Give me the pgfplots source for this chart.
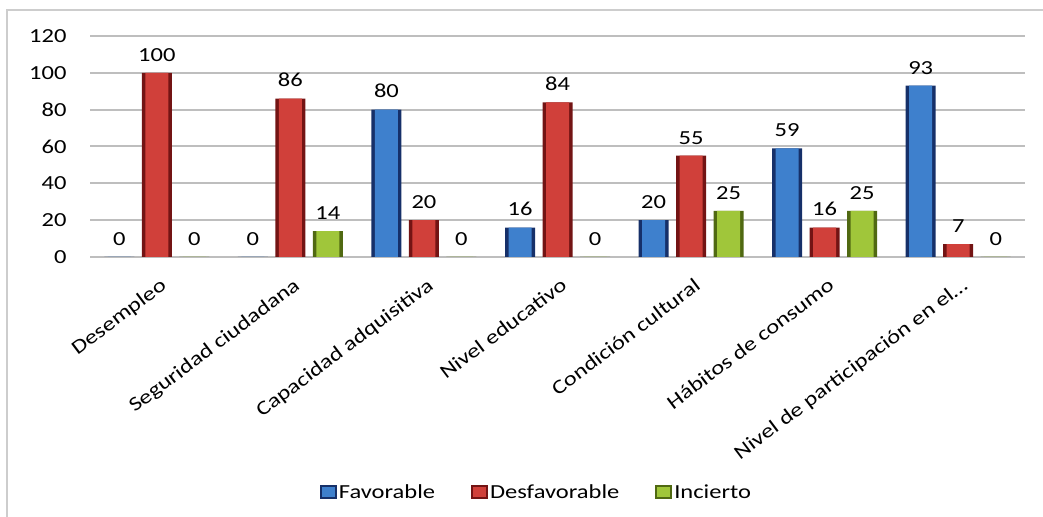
\documentclass[border=0pt]{standalone}
\usepackage{pgfplots}
\pgfplotsset{compat=1.18}
\usepackage{fontspec}
\setmainfont{Carlito}[FakeStretch=1.23]

% Bar colours: a dark rim around a lighter face
\definecolor{bluedark}{RGB}{22,48,105}
\definecolor{bluemid}{RGB}{62,128,205}
\definecolor{reddark}{RGB}{115,20,20}
\definecolor{redmid}{RGB}{208,64,58}
\definecolor{greendark}{RGB}{80,105,18}
\definecolor{greenmid}{RGB}{160,198,58}
\definecolor{gridgray}{RGB}{190,190,190}
\definecolor{framegray}{RGB}{205,205,205}

\pgfplotstableread{
x fav desf inc
0 0  100 0
1 0  86  14
2 80 20  0
3 16 84  0
4 20 55  25
5 59 16  25
6 93 7   0
}\datatable

\pgfplotsset{
  rim/.style={ybar, bar width=30bp, draw=none, forget plot},
  face/.style={ybar, bar width=23bp, draw=none, nodes near coords},
}

\begin{document}
\begin{tikzpicture}[x=1bp,y=1bp]
\path[use as bounding box] (0,0) rectangle (1043,517);
\draw[framegray, line width=2bp] (7,0) -- (7,507) -- (1043,507);
\begin{axis}[
  at={(90bp,260bp)}, anchor=south west,
  scale only axis, width=935bp, height=221bp,
  xmin=-0.5, xmax=6.5, ymin=0, ymax=120,
  ytick={0,20,...,120},
  xtick={0,...,6},
  xticklabels={Desempleo, Seguridad ciudadana, Capacidad adquisitiva, Nivel educativo, Condición cultural, Hábitos de consumo, Nivel de participación en el…},
  /pgf/number format/assume math mode=true,
  ymajorgrids, grid style={draw=gridgray, line width=2bp},
  axis line style={draw=none}, tick style={draw=none},
  every tick label/.append style={font=\fontsize{20}{24}\selectfont, text=black},
  yticklabel style={xshift=-20bp},
  xticklabel style={rotate=37, anchor=north east, inner sep=2bp, yshift=-15bp, xshift=-8bp},
  nodes near coords style={font=\fontsize{20}{24}\selectfont, text=black, yshift=8bp},
  legend style={at={(0.4775,-1.063)}, anchor=center, draw=none, fill=none,
    legend columns=-1, font=\fontsize{20}{24}\selectfont,
    /tikz/every even column/.append style={column sep=34bp}},
]
% Favorable
\addplot[rim, bar shift=-37.5bp, fill=bluedark] table[x=x, y=fav] {\datatable};
\addplot[face, bar shift=-37.5bp, fill=bluemid,
  nodes near coords style={xshift=-37.5bp},
  legend image code/.code={\draw[fill=bluemid, draw=bluedark, line width=2bp] (0bp,-6bp) rectangle (15bp,6bp);}]
  table[x=x, y=fav] {\datatable};
\addlegendentry{Favorable}
% Desfavorable
\addplot[rim, bar shift=0bp, fill=reddark] table[x=x, y=desf] {\datatable};
\addplot[face, bar shift=0bp, fill=redmid,
  legend image code/.code={\draw[fill=redmid, draw=reddark, line width=2bp] (0bp,-6bp) rectangle (15bp,6bp);}]
  table[x=x, y=desf] {\datatable};
\addlegendentry{Desfavorable}
% Incierto
\addplot[rim, bar shift=37.5bp, fill=greendark] table[x=x, y=inc] {\datatable};
\addplot[face, bar shift=37.5bp, fill=greenmid,
  nodes near coords style={xshift=37.5bp},
  legend image code/.code={\draw[fill=greenmid, draw=greendark, line width=2bp] (0bp,-6bp) rectangle (15bp,6bp);}]
  table[x=x, y=inc] {\datatable};
\addlegendentry{Incierto}
\end{axis}
\end{tikzpicture}
\end{document}
